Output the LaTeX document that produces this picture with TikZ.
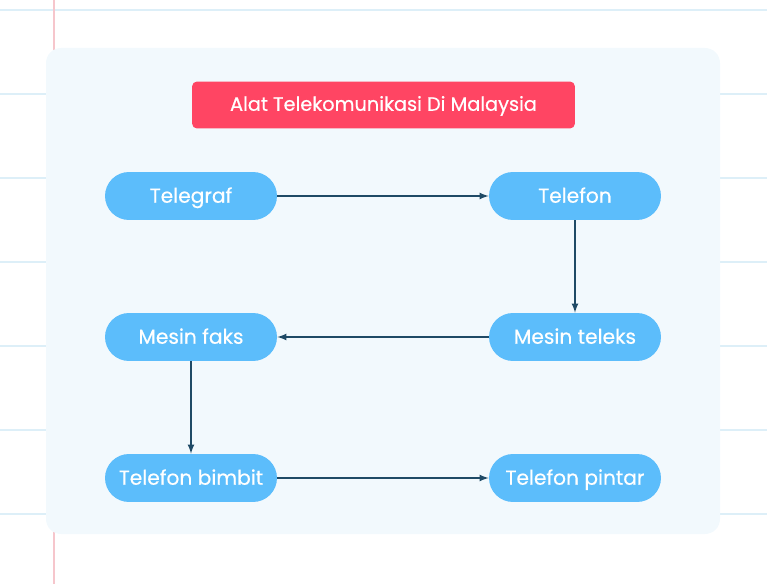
\documentclass[tikz,border=0pt]{standalone}
\usepackage{fontspec}
\setmainfont{Poppins}
\newfontfamily\medfont{Poppins}[UprightFeatures={FakeBold=0.5}]
\usetikzlibrary{positioning}
\definecolor{pill}{HTML}{5CBDFB}
\definecolor{titlered}{HTML}{FF4563}
\definecolor{navy}{HTML}{1F4A66}
\definecolor{panel}{HTML}{F2F9FD}
\definecolor{rule}{HTML}{DDEFF8}
\definecolor{margin}{HTML}{F6C6CC}
\tikzset{item/.style={fill=pill,text=white,rounded corners=0.48cm,minimum width=3.44cm,minimum height=0.96cm,text height=1.6ex,text depth=0.2ex,font=\fontsize{11.5}{13}\medfont}}
\tikzset{link/.style={->,>=latex,navy,thick}}
\begin{document}
\begin{tikzpicture}[x=0.02cm,y=-0.02cm]
	\useasboundingbox (0,0) rectangle (767,584);
	% Lined paper
	\foreach \y in {10,94,178,262,346,430,514}
		\draw [rule,thick] (0,\y) -- (767,\y);
	\draw [margin,thick] (54,0) -- (54,584);
	% Panel
	\fill [panel,rounded corners=0.3cm] (46,48) rectangle (720,534);
	% Title
	\node [fill=titlered,text=white,rounded corners=0.1cm,minimum width=7.66cm,minimum height=0.94cm,text height=1.6ex,text depth=0.4ex,font=\fontsize{11}{13}\medfont] (title) at (383.5,105) {Alat Telekomunikasi Di Malaysia};
	% Nodes
	\node [item] (telegraf) at (191,196) {Telegraf};
	\node [item] (telefon) at (575,196) {Telefon};
	\node [item] (teleks) at (575,337) {Mesin teleks};
	\node [item] (faks) at (191,337) {Mesin faks};
	\node [item] (bimbit) at (191,478) {Telefon bimbit};
	\node [item] (pintar) at (575,478) {Telefon pintar};
	% Arrows
	\draw [link] (telegraf) -- (telefon);
	\draw [link] (telefon) -- (teleks);
	\draw [link] (teleks) -- (faks);
	\draw [link] (faks) -- (bimbit);
	\draw [link] (bimbit) -- (pintar);
\end{tikzpicture}
\end{document}
